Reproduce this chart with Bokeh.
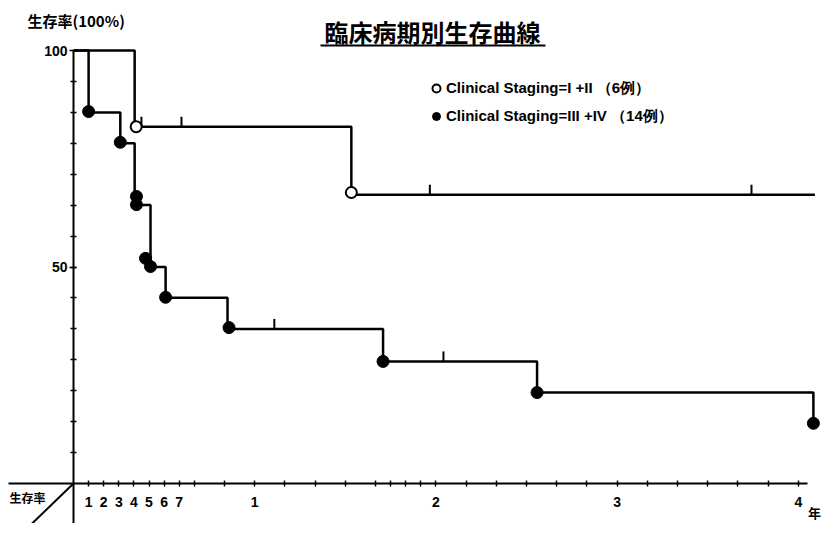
from bokeh.plotting import figure
from bokeh.models import LinearAxis, FixedTicker, Label, Legend, LegendItem, Range1d
from bokeh.embed import file_html
from bokeh.resources import INLINE

# ---------------- data (months, survival %) ----------------
stage12_t = [0, 4.05, 18.4, 49.1]
stage12_s = [100, 82.4, 66.7, 66.7]
stage12_event_t = [4.15, 18.4]
stage12_event_s = [82.4, 67.2]
stage12_cens_t = [4.5, 7.15, 23.6, 44.9]
stage12_cens_s = [82.4, 82.4, 66.7, 66.7]

stage34_t = [0, 1.0, 3.1, 4.05, 5.1, 6.1, 10.2, 20.5, 30.7, 49.0]
stage34_s = [100, 85.7, 78.6, 64.3, 50.0, 42.9, 35.7, 28.2, 21.0, 13.9]
stage34_event_t = [1.0, 3.1, 4.17, 4.17, 4.77, 5.1, 6.1, 10.3, 20.5, 30.7, 49.0]
stage34_event_s = [85.9, 78.8, 66.3, 64.4, 52.0, 50.1, 43.0, 36.0, 28.2, 21.0, 13.9]
stage34_cens_t = [13.3, 24.5]
stage34_cens_s = [35.7, 28.2]

x_major_ticks = [1, 2, 3, 4, 5, 6, 7, 12, 24, 36, 48]
x_minor_ticks = [8, 10, 14, 16, 18, 20, 21, 22, 23, 26, 28, 30, 32, 34, 38, 40, 42, 44, 46]
x_year_labels = {12: "1", 24: "2", 36: "3", 48: "4"}
y_major_ticks = [50, 100]
y_minor_ticks = [100 * k / 14 for k in range(1, 14)]

title_text = "臨床病期別生存曲線"
ylabel_text = "生存率(100%)"
corner_text = "生存率"
xunit_text = "年"
legend_labels = ["Clinical Staging=I +II （6例）", "Clinical Staging=III +IV （14例）"]

# ---------------- layout helpers (picture pixel -> data) ----------------
PX_MONTH = 15.1
PX_PCT = 4.33
OX, OY = 73, 483
W, H = 824, 523


def dx(ix):
    return (ix - OX) / PX_MONTH


def dy(iy):
    return (OY - iy) / PX_PCT


p = figure(width=W, height=H, x_range=Range1d(dx(0), dx(W)), y_range=Range1d(dy(H), dy(0)),
           x_axis_type=None, y_axis_type=None, toolbar_location=None, output_backend="svg",
           min_border=0, outline_line_color=None, background_fill_color="white",
           border_fill_color="white")

CJK = "Noto Sans CJK JP"
LAT = "Liberation Sans"

xaxis = LinearAxis(ticker=FixedTicker(ticks=x_major_ticks, minor_ticks=x_minor_ticks),
                   fixed_location=0, bounds=(dx(8), dx(807)),
                   major_label_overrides=x_year_labels,
                   axis_line_width=2, axis_line_color="black",
                   major_tick_in=3, major_tick_out=3, minor_tick_in=3, minor_tick_out=3,
                   major_tick_line_width=1.5, minor_tick_line_width=1.5,
                   major_label_standoff=10, major_label_text_font=LAT,
                   major_label_text_font_style="bold", major_label_text_font_size="14px",
                   major_label_text_color="black")
p.add_layout(xaxis, "below")

yaxis = LinearAxis(ticker=FixedTicker(ticks=y_major_ticks, minor_ticks=y_minor_ticks),
                   fixed_location=0, bounds=(dy(H), 100),
                   axis_line_width=2, axis_line_color="black",
                   major_tick_in=3, major_tick_out=4, minor_tick_in=3, minor_tick_out=3,
                   major_tick_line_width=1.5, minor_tick_line_width=1.5,
                   major_label_standoff=2, major_label_text_font=LAT,
                   major_label_text_font_style="bold", major_label_text_font_size="14px",
                   major_label_text_color="black")
p.add_layout(yaxis, "left")

# corner diagonal
p.line([0, dx(15)], [0, dy(539)], line_color="black", line_width=2)

# curves
LW = 2.5
p.step(stage12_t, stage12_s, mode="after", line_color="black", line_width=LW)
p.step(stage34_t, stage34_s, mode="after", line_color="black", line_width=LW)

cens_h = 10 / PX_PCT
p.segment(stage12_cens_t, stage12_cens_s, stage12_cens_t, [s + cens_h for s in stage12_cens_s],
          line_color="black", line_width=2)
p.segment(stage34_cens_t, stage34_cens_s, stage34_cens_t, [s + cens_h for s in stage34_cens_s],
          line_color="black", line_width=2)

r_open = p.scatter(stage12_event_t, stage12_event_s, marker="circle", size=11,
                   fill_color="white", line_color="black", line_width=2)
r_fill = p.scatter(stage34_event_t, stage34_event_s, marker="circle", size=12,
                   fill_color="black", line_color="black", line_width=1)

legend = Legend(items=[LegendItem(label=legend_labels[0], renderers=[r_open]),
                       LegendItem(label=legend_labels[1], renderers=[r_fill])],
                location=(426, 397), orientation="vertical",
                glyph_width=20, glyph_height=20, spacing=8, padding=0, margin=0,
                label_standoff=0, border_line_color=None, background_fill_alpha=0,
                label_text_font=LAT, label_text_font_style="bold",
                label_text_font_size="15px", label_text_color="black")
p.add_layout(legend)

# title with underline
p.add_layout(Label(x=dx(432), y=dy(31), text=title_text, text_align="center",
                   text_baseline="middle", text_font=CJK, text_font_style="bold",
                   text_font_size="24px", text_color="black"))
p.segment([dx(320)], [dy(45)], [dx(545)], [dy(45)], line_color="black", line_width=2)

p.add_layout(Label(x=dx(27), y=dy(20), text=ylabel_text, text_align="left",
                   text_baseline="middle", text_font=CJK, text_font_style="bold",
                   text_font_size="15px", text_color="black"))
p.add_layout(Label(x=dx(9), y=dy(497), text=corner_text, text_align="left",
                   text_baseline="middle", text_font=CJK, text_font_style="bold",
                   text_font_size="12px", text_color="black"))
p.add_layout(Label(x=dx(814), y=dy(512), text=xunit_text, text_align="center",
                   text_baseline="middle", text_font=CJK, text_font_style="bold",
                   text_font_size="13px", text_color="black"))

open("out.html", "w").write(file_html(p, INLINE))
